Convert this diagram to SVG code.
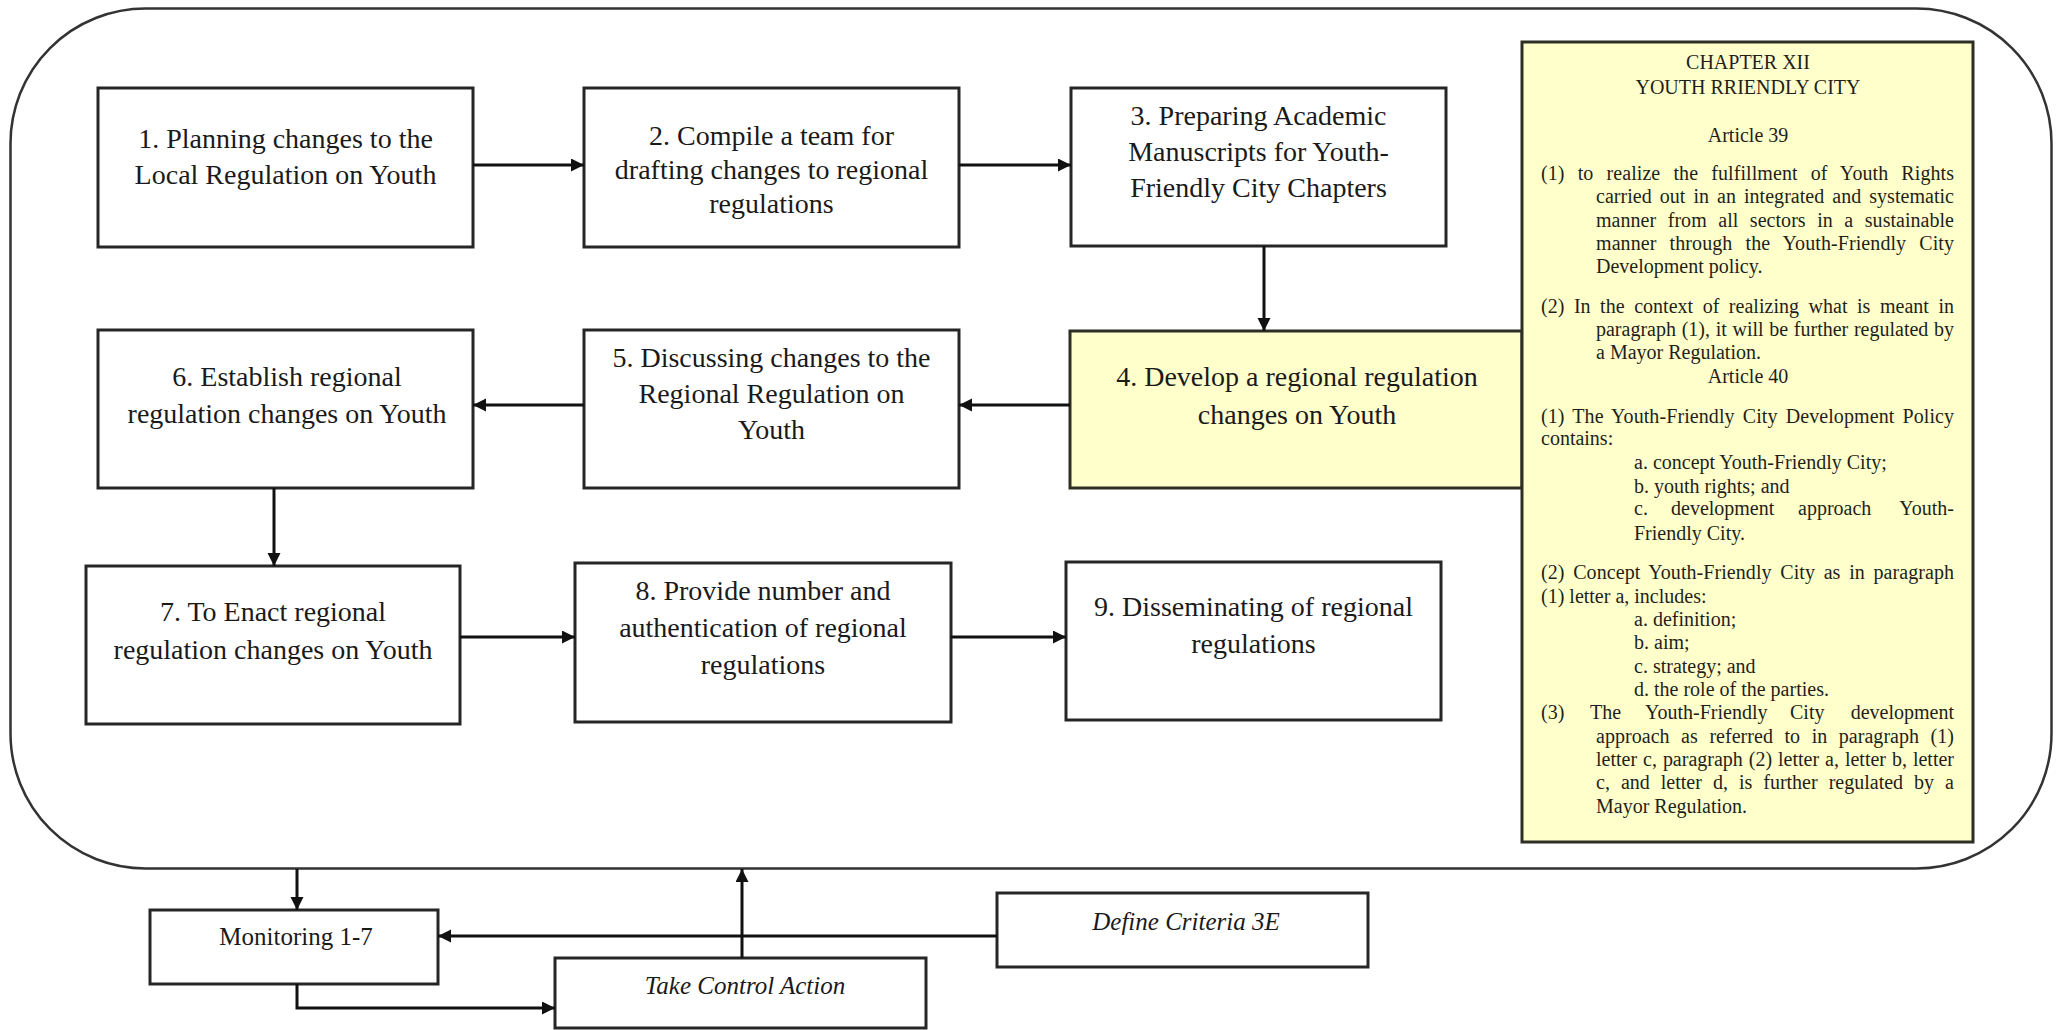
<svg xmlns="http://www.w3.org/2000/svg" width="2058" height="1030" viewBox="0 0 2058 1030">
<style>
.box{fill:#ffffff;stroke:#262626;stroke-width:3}
.yel{fill:#ffffcc;stroke:#2e2e24;stroke-width:3}
.t{font-family:"Liberation Serif","Times New Roman",serif;font-size:28px;fill:#1a1a1a;text-anchor:middle}
.s{font-family:"Liberation Serif","Times New Roman",serif;font-size:25px;fill:#1a1a1a;text-anchor:middle}
.i{font-style:italic}
.p{font-family:"Liberation Serif","Times New Roman",serif;font-size:20px;fill:#1f1f1a}
.c{text-anchor:middle}
.con{fill:none;stroke:#111;stroke-width:3}
</style>
<defs>
<marker id="ah" markerUnits="userSpaceOnUse" markerWidth="14" markerHeight="14" refX="13" refY="6.5" orient="auto">
<path d="M0,0 L13,6.5 L0,13 z" fill="#111"/>
</marker>
</defs>
<rect width="2058" height="1030" fill="#ffffff"/>
<g id="frame">
<rect x="10.5" y="8.5" width="2041" height="860" rx="135" ry="135" fill="none" stroke="#333" stroke-width="2.5"/>
</g>
<g id="n1"><rect class="box" x="98" y="88" width="375" height="159"/>
<text class="t" x="285.5" y="148">1. Planning changes to the</text>
<text class="t" x="285.5" y="184">Local Regulation on Youth</text></g>
<g id="n2"><rect class="box" x="584" y="88" width="375" height="159"/>
<text class="t" x="771.5" y="145">2. Compile a team for</text>
<text class="t" x="771.5" y="179">drafting changes to regional</text>
<text class="t" x="771.5" y="213">regulations</text></g>
<g id="n3"><rect class="box" x="1071" y="88" width="375" height="158"/>
<text class="t" x="1258.5" y="125">3. Preparing Academic</text>
<text class="t" x="1258.5" y="161">Manuscripts for Youth-</text>
<text class="t" x="1258.5" y="197">Friendly City Chapters</text></g>
<g id="n4"><rect class="yel" x="1070" y="331" width="452" height="157"/>
<text class="t" x="1297" y="386">4. Develop a regional regulation</text>
<text class="t" x="1297" y="424">changes on Youth</text></g>
<g id="n5"><rect class="box" x="584" y="330" width="375" height="158"/>
<text class="t" x="771.5" y="367">5. Discussing changes to the</text>
<text class="t" x="771.5" y="403">Regional Regulation on</text>
<text class="t" x="771.5" y="439">Youth</text></g>
<g id="n6"><rect class="box" x="98" y="330" width="375" height="158"/>
<text class="t" x="287" y="386">6. Establish regional</text>
<text class="t" x="287" y="423">regulation changes on Youth</text></g>
<g id="n7"><rect class="box" x="86" y="566" width="374" height="158"/>
<text class="t" x="273" y="621">7. To Enact regional</text>
<text class="t" x="273" y="659">regulation changes on Youth</text></g>
<g id="n8"><rect class="box" x="575" y="563" width="376" height="159"/>
<text class="t" x="763" y="600">8. Provide number and</text>
<text class="t" x="763" y="637">authentication of regional</text>
<text class="t" x="763" y="674">regulations</text></g>
<g id="n9"><rect class="box" x="1066" y="562" width="375" height="158"/>
<text class="t" x="1253.5" y="616">9. Disseminating of regional</text>
<text class="t" x="1253.5" y="653">regulations</text></g>
<g id="panel"><rect class="yel" x="1522" y="42" width="451" height="800"/>
<text class="p c" x="1748" y="69">CHAPTER XII</text>
<text class="p c" x="1748" y="94">YOUTH RRIENDLY CITY</text>
<text class="p c" x="1748" y="142">Article 39</text>
<text class="p" x="1541" y="180" word-spacing="8" textLength="413" lengthAdjust="spacing">(1) to realize the fulfillment of Youth Rights</text>
<text class="p" x="1596" y="203" word-spacing="3" textLength="358" lengthAdjust="spacing">carried out in an integrated and systematic</text>
<text class="p" x="1596" y="227" word-spacing="6.5" textLength="358" lengthAdjust="spacing">manner from all sectors in a sustainable</text>
<text class="p" x="1596" y="250" word-spacing="8" textLength="358" lengthAdjust="spacing">manner through the Youth-Friendly City</text>
<text class="p" x="1596" y="273">Development policy.</text>
<text class="p" x="1541" y="313" word-spacing="4.5" textLength="413" lengthAdjust="spacing">(2) In the context of realizing what is meant in</text>
<text class="p" x="1596" y="336" word-spacing="0.7" textLength="358" lengthAdjust="spacing">paragraph (1), it will be further regulated by</text>
<text class="p" x="1596" y="359">a Mayor Regulation.</text>
<text class="p c" x="1748" y="383">Article 40</text>
<text class="p" x="1541" y="423" word-spacing="3" textLength="413" lengthAdjust="spacing">(1) The Youth-Friendly City Development Policy</text>
<text class="p" x="1541" y="445">contains:</text>
<text class="p" x="1634" y="469">a. concept Youth-Friendly City;</text>
<text class="p" x="1634" y="493">b. youth rights; and</text>
<text class="p" y="515"><tspan x="1634">c.</tspan><tspan x="1671">development</tspan><tspan x="1798">approach</tspan><tspan x="1954" text-anchor="end">Youth-</tspan></text>
<text class="p" x="1634" y="540">Friendly City.</text>
<text class="p" x="1541" y="579" word-spacing="3.6" textLength="413" lengthAdjust="spacing">(2) Concept Youth-Friendly City as in paragraph</text>
<text class="p" x="1541" y="603">(1) letter a, includes:</text>
<text class="p" x="1634" y="626">a. definition;</text>
<text class="p" x="1634" y="649">b. aim;</text>
<text class="p" x="1634" y="673">c. strategy; and</text>
<text class="p" x="1634" y="696">d. the role of the parties.</text>
<text class="p" y="719"><tspan x="1541">(3)</tspan><tspan x="1590">The</tspan><tspan x="1645">Youth-Friendly</tspan><tspan x="1790">City</tspan><tspan x="1954" text-anchor="end">development</tspan></text>
<text class="p" x="1596" y="743" word-spacing="6.5" textLength="358" lengthAdjust="spacing">approach as referred to in paragraph (1)</text>
<text class="p" x="1596" y="766" word-spacing="1" textLength="358" lengthAdjust="spacing">letter c, paragraph (2) letter a, letter b, letter</text>
<text class="p" x="1596" y="789" word-spacing="6" textLength="358" lengthAdjust="spacing">c, and letter d, is further regulated by a</text>
<text class="p" x="1596" y="813">Mayor Regulation.</text>
</g>
<g id="monitoring"><rect class="box" x="150" y="910" width="288" height="74"/>
<text class="s" x="296" y="945">Monitoring 1-7</text></g>
<g id="control"><rect class="box" x="555" y="958" width="371" height="70"/>
<text class="s i" x="745" y="994">Take Control Action</text></g>
<g id="criteria"><rect class="box" x="997" y="893" width="371" height="74"/>
<text class="s i" x="1186" y="930">Define Criteria 3E</text></g>
<g id="connectors">
<line class="con" x1="473" y1="165" x2="584" y2="165" marker-end="url(#ah)"/>
<line class="con" x1="959" y1="165" x2="1071" y2="165" marker-end="url(#ah)"/>
<line class="con" x1="1264" y1="246" x2="1264" y2="331" marker-end="url(#ah)"/>
<line class="con" x1="1070" y1="405" x2="959" y2="405" marker-end="url(#ah)"/>
<line class="con" x1="584" y1="405" x2="473" y2="405" marker-end="url(#ah)"/>
<line class="con" x1="274" y1="488" x2="274" y2="566" marker-end="url(#ah)"/>
<line class="con" x1="460" y1="637" x2="575" y2="637" marker-end="url(#ah)"/>
<line class="con" x1="951" y1="637" x2="1066" y2="637" marker-end="url(#ah)"/>
<line class="con" x1="297" y1="869" x2="297" y2="910" marker-end="url(#ah)"/>
<line class="con" x1="997" y1="936" x2="438" y2="936" marker-end="url(#ah)"/>
<polyline class="con" points="297,984 297,1008 555,1008" marker-end="url(#ah)"/>
<line class="con" x1="742" y1="958" x2="742" y2="869" marker-end="url(#ah)"/>
</g>
</svg>
